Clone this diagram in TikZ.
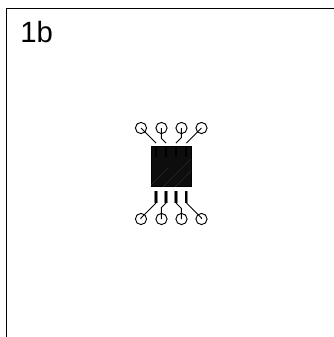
\documentclass[tikz,border=0pt]{standalone}
\usepackage{fontspec}
\setmainfont{Liberation Sans}
\definecolor{hatch}{gray}{0.17}
\definecolor{chipfill}{gray}{0.05}
\tikzset{
  pad/.style={circle,draw=black,line width=0.7pt,minimum size=8.4pt,inner sep=0pt},
  wire/.style={draw=black,line width=0.75pt},
  pinback/.style={draw=black!50,line width=2.6pt},
  pincore/.style={draw=black,line width=1.5pt},
  chip/.style={fill=chipfill,draw=black,line width=0.4pt,inner sep=0pt,minimum width=30pt,minimum height=30pt},
  lbl/.style={inner sep=0pt,anchor=base west,font=\fontsize{22pt}{26pt}\selectfont}
}
\begin{document}
\begin{tikzpicture}[x=0.75pt,y=-0.75pt]
\useasboundingbox (0,0) rectangle (334,337);
\draw[line width=0.7pt] (6.5,337) -- (6.5,8) -- (334,8);
\node[lbl] (title) at (20,42.5) {1b};
\node[chip] (ic) at (171,166.7) {};
\begin{scope}
\clip (151,146.7) rectangle (191,186.7);
\draw[hatch,line width=0.4pt] (150,186) -- (168,168) (160,190) -- (192,158) (172,190) -- (194,168);
\end{scope}
\foreach \n/\x/\px in {a/141/156,b/161.5/166,c/181.5/176,d/201.5/186.5}{
  \node[pad] (t\n) at (\x,128) {};
  \coordinate (te\n) at (\px,143);
  \coordinate (tf\n) at (\px,157);
  \draw[wire] (t\n.center) -- (\x,{143-abs(\px-\x)}) -- (te\n);
  \draw[pincore] (\px,146) -- (tf\n);
}
\foreach \n/\x/\px in {a/141/156,b/161.5/166,c/181.5/176,d/201.5/186.5}{
  \node[pad] (b\n) at (\x,219) {};
  \coordinate (be\n) at (\px,191);
  \coordinate (bf\n) at (\px,203);
  \draw[pinback] (be\n) -- (bf\n);
  \draw[pincore] ([xshift=-0.3pt]be\n) -- ([xshift=-0.3pt]bf\n);
  \draw[wire] (b\n.center) -- (\x,{203+abs(\px-\x)}) -- (bf\n);
}
\end{tikzpicture}
\end{document}
